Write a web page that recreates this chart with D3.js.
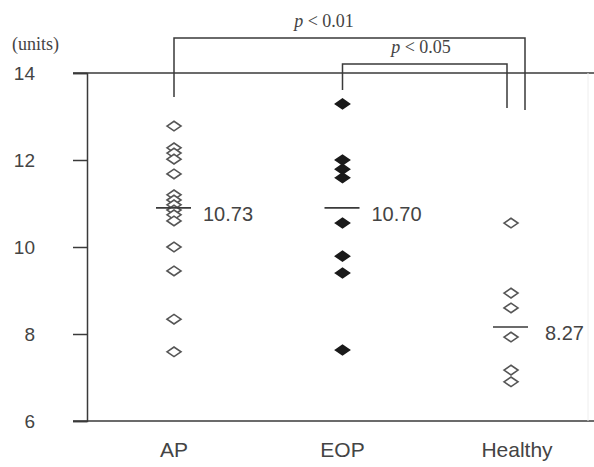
<!DOCTYPE html>
<html>
<head>
<meta charset="utf-8">
<script src="https://cdn.jsdelivr.net/npm/d3@7"></script>
<style>
  body { margin: 0; background: #fff; }
  svg { display: block; }
</style>
</head>
<body>
<div id="chart"></div>
<script>
// values
const categories = ["AP", "EOP", "Healthy"];
const apValues = [12.78, 12.28, 12.16, 12.02, 11.68, 11.20, 11.08, 10.97, 10.85, 10.74, 10.60, 10.00, 9.45, 8.34, 7.59];
const eopValues = [13.29, 12.00, 11.79, 11.59, 10.55, 9.79, 9.40, 7.63];
const healthyValues = [10.55, 8.94, 8.60, 7.93, 7.17, 6.90];
const meanMarks = [10.9, 10.9, 8.16];          // where the mean bars sit in the figure
const meanLabels = ["10.73", "10.70", "8.27"];
const filled = [false, true, false];
const yTicks = [6, 8, 10, 12, 14];
const brackets = [
  {from: "AP", to: "Healthy", label: "p < 0.01"},
  {from: "EOP", to: "Healthy", label: "p < 0.05"}
];

const width = 594, height = 467;
const ink = "#3a3a3a";

const svg = d3.select("#chart")
  .append("svg")
  .attr("width", width)
  .attr("height", height);

// scales
const y = d3.scaleLinear().domain([6, 14]).range([421, 73]);
const x = d3.scalePoint().domain(categories).range([174, 511]);
const axisX = 87;

// left axis
const yAxis = svg.append("g")
  .attr("transform", `translate(${axisX},0)`)
  .call(d3.axisLeft(y).tickValues(yTicks).tickSize(14).tickPadding(38).tickFormat(d3.format("d")));
yAxis.select(".domain").attr("stroke", ink).attr("stroke-width", 1.5);
yAxis.selectAll(".tick line").attr("stroke", ink).attr("stroke-width", 1.5);
yAxis.selectAll(".tick text")
  .attr("fill", "#444")
  .style("font-family", "'Liberation Sans', Arial, sans-serif")
  .style("font-size", "19px");

// top and bottom frame lines
svg.selectAll("line.frame")
  .data([14, 6])
  .join("line")
  .attr("class", "frame")
  .attr("x1", axisX - 14).attr("x2", width)
  .attr("y1", d => y(d)).attr("y2", d => y(d))
  .attr("stroke", ink).attr("stroke-width", 1.5);

// faint right edge
svg.append("line")
  .attr("x1", 588).attr("x2", 588)
  .attr("y1", y(14)).attr("y2", y(6))
  .attr("stroke", "#eeeeee").attr("stroke-width", 1);

// units label
svg.append("text")
  .attr("x", 12).attr("y", 50)
  .attr("fill", "#444")
  .style("font-family", "'Liberation Serif', 'Times New Roman', serif")
  .style("font-size", "18px")
  .text("(units)");

// category labels
svg.selectAll("text.cat")
  .data(categories)
  .join("text")
  .attr("class", "cat")
  .attr("x", d => x(d) + (d === "Healthy" ? 6 : 0))
  .attr("y", 457)
  .attr("text-anchor", "middle")
  .attr("fill", "#444")
  .style("font-family", "'Liberation Sans', Arial, sans-serif")
  .style("font-size", "21px")
  .text(d => d);

// points
const groups = [apValues, eopValues, healthyValues];
const diamond = "M-7,0 L0,-4.8 L7,0 L0,4.8 Z";
groups.forEach((vals, i) => {
  svg.append("g").selectAll("path")
    .data(vals)
    .join("path")
    .attr("d", diamond)
    .attr("transform", d => `translate(${x(categories[i])},${y(d)})`)
    .attr("fill", filled[i] ? "#1a1a1a" : "#fff")
    .attr("stroke", filled[i] ? "#1a1a1a" : "#555")
    .attr("stroke-width", 1.6);
});

// mean bars and labels
svg.selectAll("line.mean")
  .data(categories)
  .join("line")
  .attr("class", "mean")
  .attr("x1", d => x(d) - 18).attr("x2", d => x(d) + 17)
  .attr("y1", (d, i) => y(meanMarks[i])).attr("y2", (d, i) => y(meanMarks[i]))
  .attr("stroke", ink).attr("stroke-width", 1.6);

svg.selectAll("text.mean")
  .data(categories)
  .join("text")
  .attr("class", "mean")
  .attr("x", d => x(d) + 29 + (d === "Healthy" ? 5 : 0))
  .attr("y", (d, i) => y(meanMarks[i]) + 6)
  .attr("dominant-baseline", "central")
  .attr("fill", "#444")
  .style("font-family", "'Liberation Sans', Arial, sans-serif")
  .style("font-size", "20px")
  .text((d, i) => meanLabels[i]);

// significance brackets
const bracketTop = [38, 64];
const leftEnd = [97, 90];
const rightEnd = [110, 108];
const rightX = [525, 507];
brackets.forEach((b, i) => {
  const x0 = x(b.from), x1 = rightX[i];
  svg.append("path")
    .attr("d", `M${x0},${leftEnd[i]} V${bracketTop[i]} H${x1} V${rightEnd[i]}`)
    .attr("fill", "none")
    .attr("stroke", ink)
    .attr("stroke-width", 1.5);
  const parts = b.label.split(" ");
  const t = svg.append("text")
    .attr("x", i === 0 ? 324 : 421)
    .attr("y", bracketTop[i] - 11)
    .attr("text-anchor", "middle")
    .attr("fill", "#444")
    .style("font-family", "'Liberation Serif', 'Times New Roman', serif")
    .style("font-size", "18px");
  t.append("tspan").style("font-style", "italic").text(parts[0]);
  t.append("tspan").text(" " + parts.slice(1).join(" "));
});
</script>
</body>
</html>
